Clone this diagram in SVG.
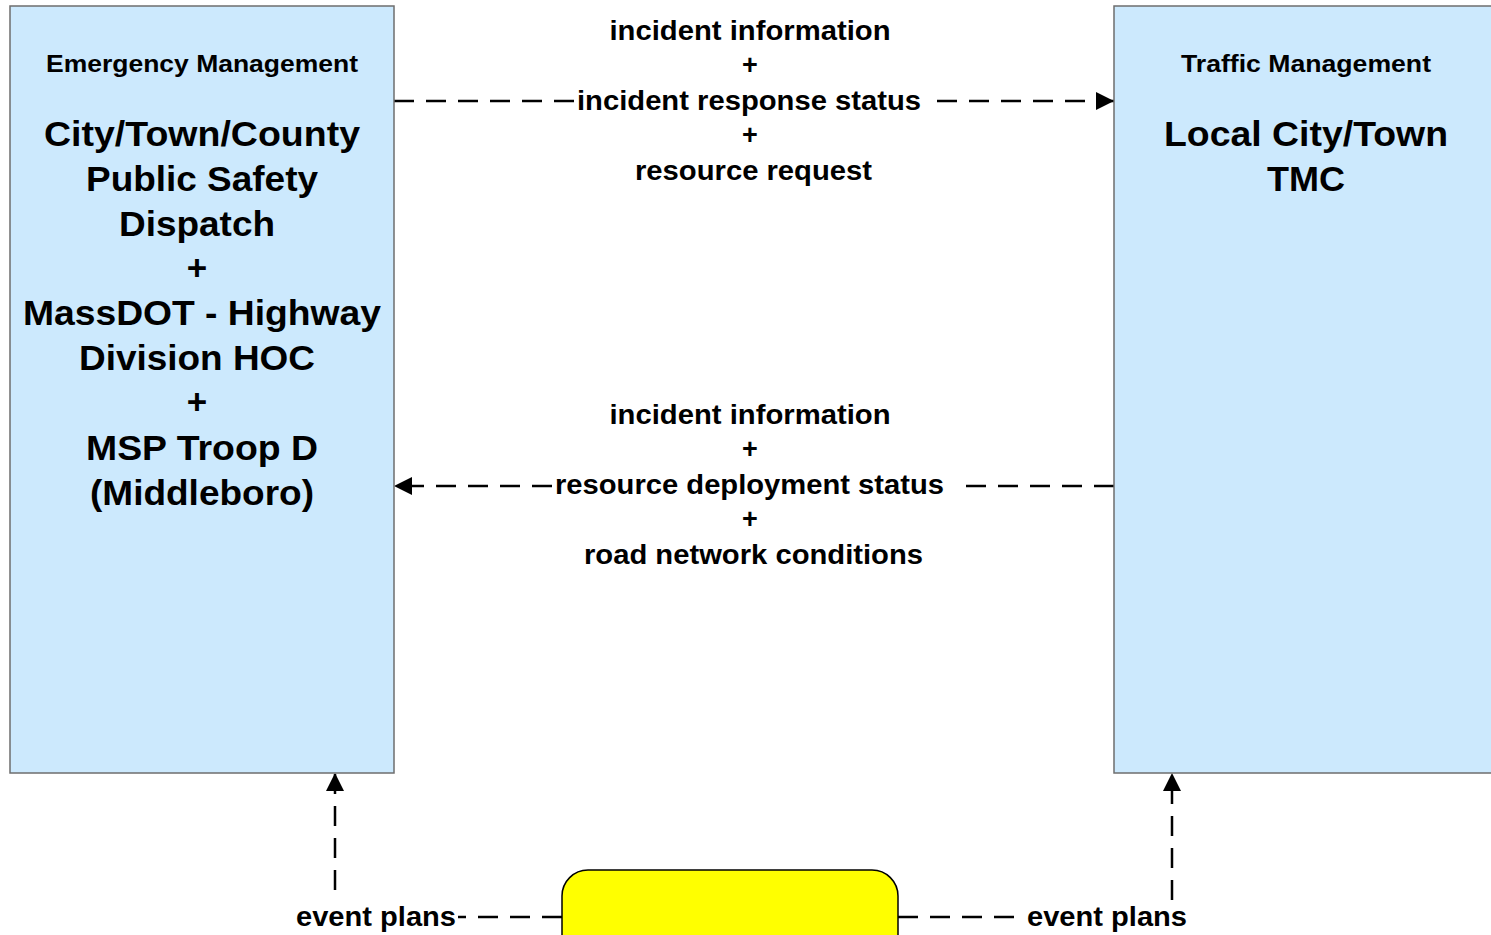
<svg xmlns="http://www.w3.org/2000/svg" width="1491" height="935" viewBox="0 0 1491 935">
<style>
.box{fill:#cce9fd;stroke:#6e6e6e;stroke-width:1.5}
.ext{fill:#ffff00;stroke:#000;stroke-width:1.5}
.t{font-family:"Liberation Sans",Arial,sans-serif;font-weight:bold;fill:#000;text-anchor:middle}
.cat{font-size:24px}
.nm{font-size:35px}
.lb{font-size:27px}
.c{fill:none;stroke:#000;stroke-width:2.5;stroke-dasharray:20 12}
</style>
<defs>
<marker id="ah" viewBox="0 0 10 10" refX="10" refY="5" markerWidth="18" markerHeight="18" markerUnits="userSpaceOnUse" orient="auto">
<path d="M0,0 L10,5 L0,10 Z" fill="#000"/>
</marker>
</defs>
<g id="connectors">
<path class="c" d="M394,101 H576"/>
<path class="c" d="M937,101 H1114" marker-end="url(#ah)"/>
<path class="c" d="M1114,486 H955"/>
<path class="c" d="M552,486 H394" marker-end="url(#ah)"/>
<path class="c" d="M562,917 H458"/>
<path class="c" d="M335,890 V773" marker-end="url(#ah)"/>
<path class="c" d="M898,917 H1015"/>
<path class="c" d="M1172,900 V773" marker-end="url(#ah)"/>
<text class="t lb" x="750" y="40" textLength="281" lengthAdjust="spacingAndGlyphs">incident information</text>
<text class="t lb" x="750" y="74">+</text>
<text class="t lb" x="749" y="110" textLength="344" lengthAdjust="spacingAndGlyphs">incident response status</text>
<text class="t lb" x="750" y="144">+</text>
<text class="t lb" x="753.5" y="180" textLength="237" lengthAdjust="spacingAndGlyphs">resource request</text>
<text class="t lb" x="750" y="424" textLength="281" lengthAdjust="spacingAndGlyphs">incident information</text>
<text class="t lb" x="750" y="458">+</text>
<text class="t lb" x="749.5" y="494" textLength="389" lengthAdjust="spacingAndGlyphs">resource deployment status</text>
<text class="t lb" x="750" y="528">+</text>
<text class="t lb" x="753.5" y="564" textLength="339" lengthAdjust="spacingAndGlyphs">road network conditions</text>
<text class="t lb" x="376" y="926" textLength="160" lengthAdjust="spacingAndGlyphs">event plans</text>
<text class="t lb" x="1107" y="926" textLength="160" lengthAdjust="spacingAndGlyphs">event plans</text>
</g>
<g id="node-em">
<rect class="box" x="10" y="6" width="384" height="767"/>
<text class="t cat" x="202" y="72" textLength="312" lengthAdjust="spacingAndGlyphs">Emergency Management</text>
<text class="t nm" x="202" y="146" textLength="316" lengthAdjust="spacingAndGlyphs">City/Town/County</text>
<text class="t nm" x="202" y="191" textLength="232" lengthAdjust="spacingAndGlyphs">Public Safety</text>
<text class="t nm" x="197" y="236" textLength="156" lengthAdjust="spacingAndGlyphs">Dispatch</text>
<text class="t nm" x="197" y="280">+</text>
<text class="t nm" x="202" y="325" textLength="358" lengthAdjust="spacingAndGlyphs">MassDOT - Highway</text>
<text class="t nm" x="197" y="370" textLength="236" lengthAdjust="spacingAndGlyphs">Division HOC</text>
<text class="t nm" x="197" y="414">+</text>
<text class="t nm" x="202" y="460" textLength="232" lengthAdjust="spacingAndGlyphs">MSP Troop D</text>
<text class="t nm" x="202" y="505" textLength="224" lengthAdjust="spacingAndGlyphs">(Middleboro)</text>
</g>
<g id="node-tm">
<rect class="box" x="1114" y="6" width="390" height="767"/>
<text class="t cat" x="1306" y="72" textLength="250" lengthAdjust="spacingAndGlyphs">Traffic Management</text>
<text class="t nm" x="1306" y="146" textLength="284" lengthAdjust="spacingAndGlyphs">Local City/Town</text>
<text class="t nm" x="1306" y="191" textLength="78" lengthAdjust="spacingAndGlyphs">TMC</text>
</g>
<g id="node-ext">
<rect class="ext" x="562" y="870" width="336" height="100" rx="26" ry="26"/>
</g>
</svg>
